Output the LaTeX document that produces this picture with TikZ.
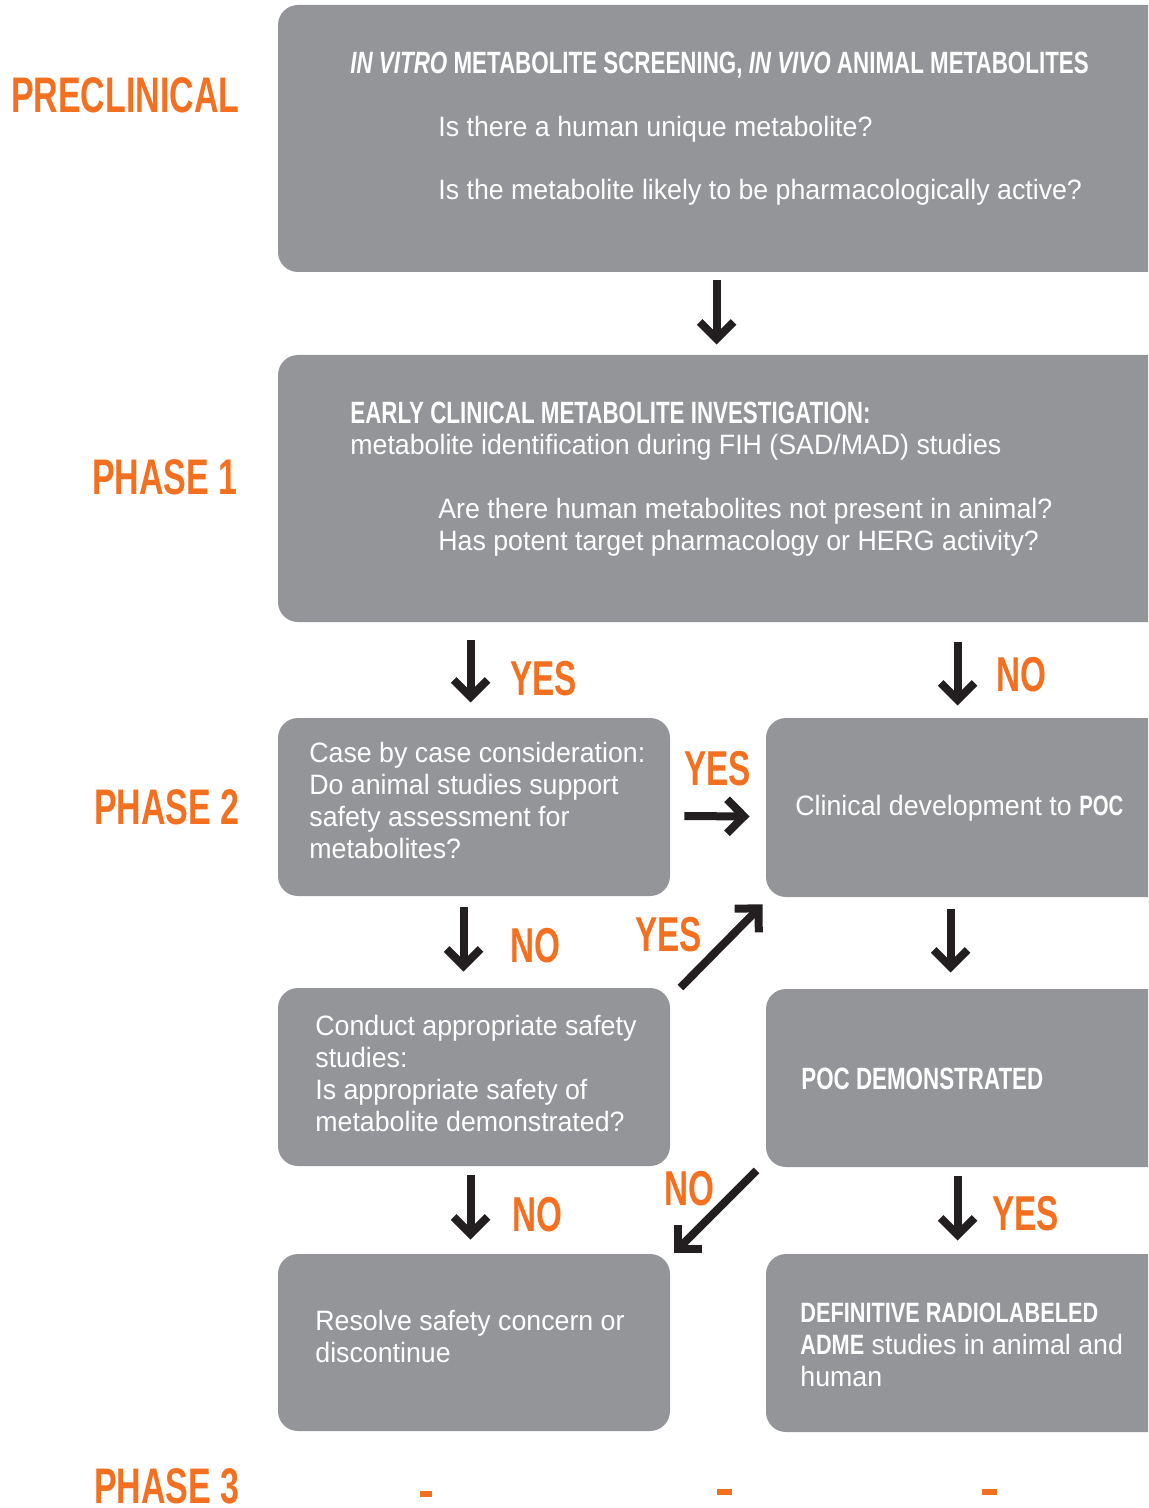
\documentclass[tikz,border=0pt]{standalone}
\usepackage{fontspec}
\setmainfont{Liberation Sans}[FakeStretch=0.955]
\newfontfamily\condbig{Liberation Sans}[FakeStretch=0.68]
\newfontfamily\condbox{Liberation Sans}[FakeStretch=0.726]
\newfontfamily\condwide{Liberation Sans}[FakeStretch=0.775]
\usetikzlibrary{arrows.meta,fit,calc}
\definecolor{boxgray}{HTML}{939598}
\definecolor{orng}{HTML}{F37021}
\definecolor{arrowc}{HTML}{231F20}
\newcommand\cbold[1]{{\condbox\bfseries #1}}
\newcommand\cwbold[1]{{\condwide\bfseries #1}}
\tikzset{
 box/.style={fill=boxgray, draw=none, rounded corners=10pt, inner sep=0pt},
 phase/.style={text=orng, font=\condbig\bfseries\fontsize{25}{25}\selectfont, anchor=base east, inner sep=0pt},
 answer/.style={text=orng, font=\condbig\bfseries\fontsize{24.5}{24.5}\selectfont, anchor=base west, inner sep=0pt},
 body/.style={text=white, font=\fontsize{14}{16}\selectfont, anchor=base west, inner sep=0pt, align=left},
 head/.style={text=white, font=\condbox\bfseries\fontsize{15.4}{16}\selectfont, anchor=base west, inner sep=0pt},
 arr/.style={draw=arrowc, line width=4pt, -{Straight Barb[length=8.5pt,width=17pt]}},
}
\begin{document}
\begin{tikzpicture}[x=0.5pt,y=-0.5pt]
\path[use as bounding box] (0,0) rectangle (1148,1508);
\clip (0,0) rectangle (1148,1508);

% boxes
\node[box, fit={(278,5) (1170,272)}] (b1) {};
\node[box, fit={(278,355) (1170,622)}] (b2) {};
\node[box, fit={(278,718) (670,896)}] (b3) {};
\node[box, fit={(766,718) (1170,897)}] (b4) {};
\node[box, fit={(278,988) (670,1166)}] (b5) {};
\node[box, fit={(766,989) (1170,1167)}] (b6) {};
\node[box, fit={(278,1254) (670,1431)}] (b7) {};
\node[box, fit={(766,1254) (1170,1432)}] (b8) {};

% phase labels
\node[phase] (pre) at (240,113) {PRECLINICAL};
\node[phase] (ph1) at (238,494) {PHASE 1};
\node[phase] (ph2) at (240,824) {PHASE 2};
\node[phase] (ph3) at (240,1503) {PHASE 3};

% box texts (base anchor = baseline of the last line)
\node[head] (t1) at (350,74) {{\itshape IN VITRO} METABOLITE SCREENING, {\itshape IN VIVO} ANIMAL METABOLITES};
\node[body] (q1) at (438,137) {Is there a human unique metabolite?};
\node[body] (q2) at (438,200) {Is the metabolite likely to be pharmacologically active?};
\node[head] (t2) at (350,423) {EARLY CLINICAL METABOLITE INVESTIGATION:};
\node[body] (t2b) at (350,454) {metabolite identification during FIH (SAD/MAD) studies};
\node[body] (q3) at (438,550) {Are there human metabolites not present in animal?\\Has potent target pharmacology or HERG activity?};
\node[body] (t3) at (309,858) {Case by case consideration:\\Do animal studies support\\safety assessment for\\metabolites?};
\node[body] (t4) at (795,815) {Clinical development to \cbold{POC}};
\node[body] (t5) at (315,1131) {Conduct appropriate safety\\studies:\\Is appropriate safety of\\metabolite demonstrated?};
\node[head] (t6) at (801,1089) {POC DEMONSTRATED};
\node[body] (t7) at (315,1362) {Resolve safety concern or\\discontinue};
\node[body] (t8) at (800,1386) {\cwbold{DEFINITIVE RADIOLABELED}\\\cwbold{ADME} studies in animal and\\human};

% answers
\node[answer] (y1) at (510,695) {YES};
\node[answer] (n1) at (996,691) {NO};
\node[answer] (y2) at (684,785) {YES};
\node[answer] (n2) at (510,962) {NO};
\node[answer] (y3) at (635,951) {YES};
\node[answer] (n3) at (512,1231) {NO};
\node[answer] (n4) at (664,1205) {NO};
\node[answer] (y4) at (992,1230) {YES};

% arrows
\draw[arr, shorten <=4pt, shorten >=5pt] ([xshift=219.5pt]b1.south west) -- ([xshift=219.5pt]b2.north west);
\draw[arr, shorten <=9pt, shorten >=7.5pt] ([xshift=96.5pt]b2.south west) -- ([xshift=96.5pt]b3.north west);
\draw[arr, shorten <=10pt, shorten >=6pt] ([xshift=340pt]b2.south west) -- ([xshift=96pt]b4.north west);
\draw[arr, shorten <=7pt, shorten >=8pt] ([yshift=-4.5pt]b3.east) -- ([yshift=-4.5pt]b4.west);
\draw[arr, shorten <=5.5pt, shorten >=8pt] ([xshift=93pt]b3.south west) -- ([xshift=93pt]b5.north west);
\draw[arr] ([xshift=5pt]b5.north east) -- ([xshift=-1.5pt,yshift=-3.5pt]b4.south west);
\draw[arr, shorten <=6pt, shorten >=8pt] ([xshift=92.5pt]b4.south west) -- ([xshift=92.5pt]b6.north west);
\draw[arr, shorten <=4.5pt, shorten >=7pt] ([xshift=96.5pt]b5.south west) -- ([xshift=96.5pt]b7.north west);
\draw[arr] ([xshift=-4.5pt,yshift=-1.5pt]b6.south west) -- ([xshift=2pt,yshift=0.5pt]b7.north east);
\draw[arr, shorten <=4.5pt, shorten >=6.5pt] ([xshift=96pt]b6.south west) -- ([xshift=96pt]b8.north west);

% phase 3 marks
\fill[orng] (420,1491) rectangle (432,1497);
\fill[orng] (717,1489) rectangle (732,1495);
\fill[orng] (982,1489) rectangle (997,1495);
\end{tikzpicture}
\end{document}
